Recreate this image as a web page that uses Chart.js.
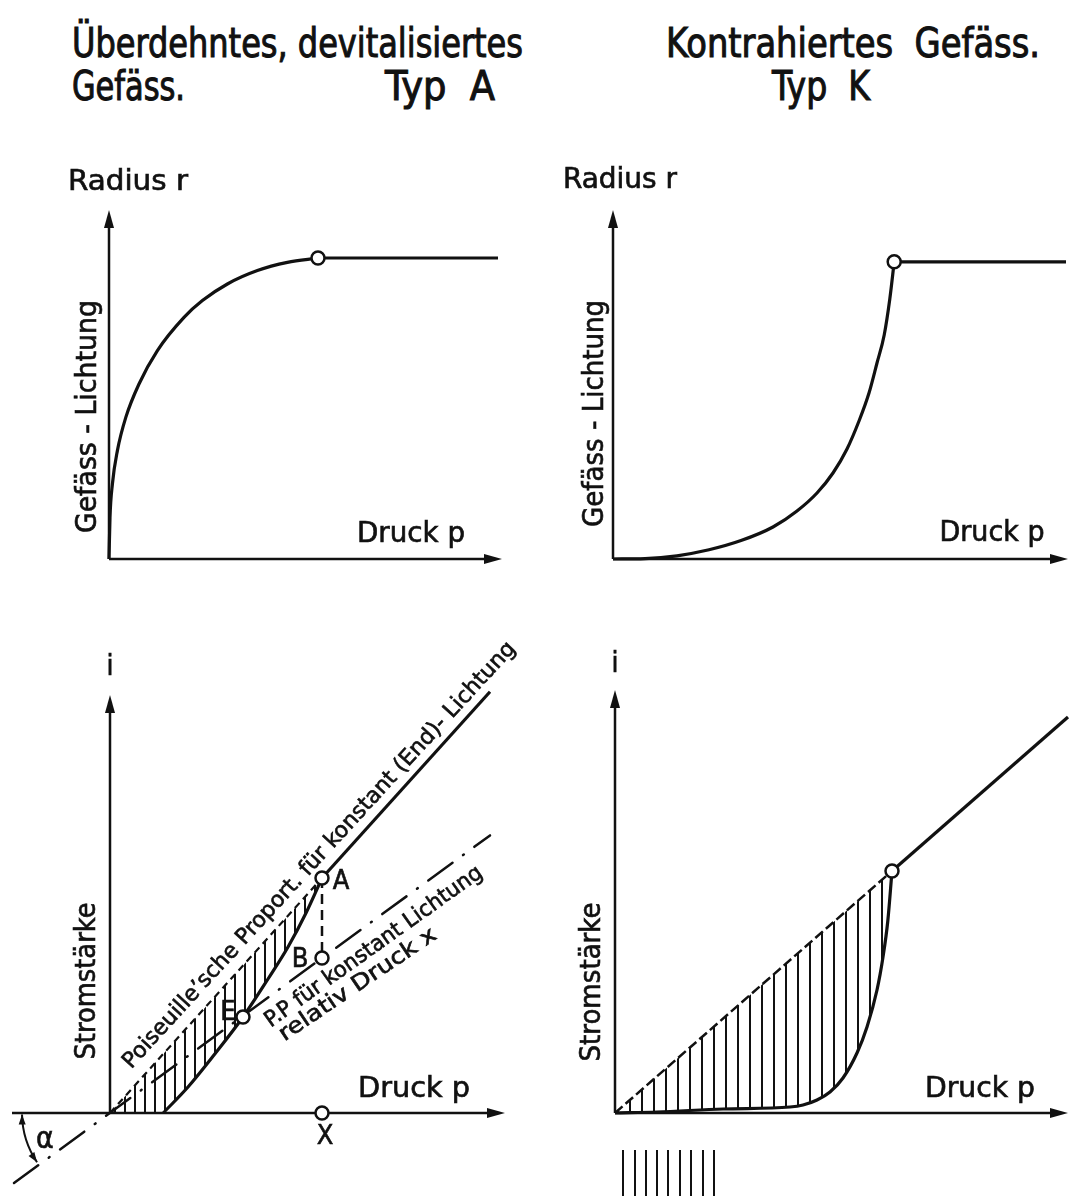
<!DOCTYPE html>
<html lang="de">
<head>
<meta charset="utf-8">
<title>Typ A / Typ K</title>
<script src="https://cdn.jsdelivr.net/npm/chart.js@4.4.1/dist/chart.umd.min.js"></script>
<style>
  html, body { margin: 0; padding: 0; background: #fff; }
  body { position: relative; width: 1071px; height: 1196px; overflow: hidden; }
  canvas { position: absolute; }
  .titel { position: absolute; white-space: pre; font-family: "DejaVu Sans Condensed", "DejaVu Sans", sans-serif;
           font-size: 40px; line-height: 40px; color: #111; -webkit-text-stroke: 1px #111; transform-origin: 0 0; }
</style>
</head>
<body>
<div class="titel" data-w="451" style="left:72px; top:23px">Überdehntes, devitalisiertes</div>
<div class="titel" data-w="113" style="left:72px; top:66px">Gefäss.</div>
<div class="titel" data-w="110" style="left:385px; top:66px">Typ  A</div>
<div class="titel" data-w="374" style="left:666px; top:23px">Kontrahiertes  Gefäss.</div>
<div class="titel" data-w="98" style="left:772px; top:66px">Typ  K</div>

<canvas id="obenA" width="481" height="431" style="left:39px; top:149px"></canvas>
<canvas id="obenK" width="521" height="431" style="left:550px; top:149px"></canvas>
<canvas id="untenA" width="540" height="576" style="left:0px; top:620px"></canvas>
<canvas id="untenK" width="531" height="576" style="left:540px; top:620px"></canvas>

<script>
const INK = '#111';
const FONT = '"DejaVu Sans Condensed", "DejaVu Sans", sans-serif';

// Typ A oben: Gefäss-Lichtung über Druck
const druckA = [0, 0.25, 0.85, 2.1, 4.2, 7.5, 12.1, 18.75, 23.35, 29.6, 37.1, 44.6, 52.25];
const radiusA = [0, 10.4, 18.75, 27.1, 35.4, 43.75, 52.1, 60.4, 64.6, 68.75, 72.1, 74.15, 75.25];
const plateauDruckA = [52.25, 97.25];
const plateauRadiusA = [75.25, 75.25];

// Typ K oben
const druckK = [0, 8, 16, 24, 32, 40, 46, 51, 55, 58.5, 61.5, 64, 66, 67.8, 69.2, 70.3];
const radiusK = [0, 0.1, 0.8, 2.3, 4.6, 8, 12, 16.5, 21.5, 27.5, 34.5, 41.5, 49, 56, 65, 74.3];
const plateauDruckK = [70.3, 113.25];
const plateauRadiusK = [74.3, 74.3];

// Typ A unten: Stromstärke über Druck
const druckStromA = [13.3, 19.5, 26, 33.25, 39.5, 44.5, 49, 53];
const stromA = [0, 6.5, 14.5, 24, 33.5, 41.5, 50, 58.75];
const poisDruckA = [0, 53, 95];
const poisStromA = [0, 58.75, 105.3];
const ppDruckA = [-24, 95];
const ppStromA = [-17.5, 69.4];
const punktDruckA = [53, 53, 33.25, 53];   // A, B, E, X
const punktStromA = [58.75, 38.75, 24, 0];

// Typ K unten
const druckStromK = [0, 10.5, 27, 43.75, 47, 50.5, 53.75, 57, 60.5, 63, 65.5, 67, 68.2, 69.25];
const stromK = [0, 0.25, 1, 1.5, 2, 3.25, 5.25, 8.75, 15, 21.5, 30.75, 39, 48, 60.5];
const poisDruckK = [0, 69.25, 113.25];
const poisStromK = [0, 60.5, 99];
const strichDruck = [2, 5, 7.75, 10.5, 13.25, 16.25, 19, 22, 24.75];
const strichOben = -9.25, strichUnten = -21;

// titles: squeeze to the width of the lettering
document.querySelectorAll('.titel').forEach(el => {
  const w = +el.dataset.w;
  const r = el.getBoundingClientRect().width;
  el.style.transform = 'scaleX(' + (w / r) + ')';
});

const pts = (xs, ys) => xs.map((x, i) => ({x: x, y: ys[i]}));

function linie(xs, ys, extra) {
  return Object.assign({
    data: pts(xs, ys), showLine: true, borderColor: INK, borderWidth: 3.2,
    pointRadius: 0, pointHitRadius: 0, tension: 0, fill: false, clip: false
  }, extra);
}

function punkte(xs, ys) {
  return {
    data: pts(xs, ys), showLine: false, pointRadius: 6.5, pointBorderWidth: 2.5,
    pointBackgroundColor: '#fff', pointBorderColor: INK, clip: false
  };
}

function schraffur(step) {
  const c = document.createElement('canvas');
  c.width = step; c.height = 8;
  const g = c.getContext('2d');
  g.fillStyle = INK;
  g.fillRect(Math.floor(step / 2) - 1, 0, 2, 8);
  return g.createPattern(c, 'repeat');
}

function pfeil(ctx, x, y, ang, len, half) {
  const cx = Math.cos(ang), cy = Math.sin(ang);
  ctx.beginPath();
  ctx.moveTo(x, y);
  ctx.lineTo(x - len * cx - half * cy, y - len * cy + half * cx);
  ctx.lineTo(x - len * cx + half * cy, y - len * cy - half * cx);
  ctx.closePath();
  ctx.fill();
}

// axes with arrows, labels and the angle arc, all placed through the scales
const skizze = {
  id: 'skizze',
  beforeDatasetsDraw(chart, args, opts) {
    const ctx = chart.ctx, xs = chart.scales.x, ys = chart.scales.y;
    ctx.save();
    ctx.strokeStyle = INK; ctx.fillStyle = INK; ctx.lineWidth = 2.5;
    (opts.achsen || []).forEach(a => {
      const x0 = xs.getPixelForValue(a[0]), y0 = ys.getPixelForValue(a[1]);
      const x1 = xs.getPixelForValue(a[2]), y1 = ys.getPixelForValue(a[3]);
      const ang = Math.atan2(y1 - y0, x1 - x0);
      ctx.beginPath();
      ctx.moveTo(x0, y0);
      ctx.lineTo(x1 - 14 * Math.cos(ang), y1 - 14 * Math.sin(ang));
      ctx.stroke();
      pfeil(ctx, x1, y1, ang, 18, 5);
    });
    ctx.restore();
  },
  afterDatasetsDraw(chart, args, opts) {
    const ctx = chart.ctx, xs = chart.scales.x, ys = chart.scales.y;
    ctx.save();
    ctx.fillStyle = INK; ctx.strokeStyle = INK;
    if (opts.bogen) {
      const b = opts.bogen;
      const cx = xs.getPixelForValue(b.x), cy = ys.getPixelForValue(b.y);
      const r = xs.getPixelForValue(b.r) - xs.getPixelForValue(0);
      const a0 = b.von * Math.PI / 180, a1 = b.bis * Math.PI / 180;
      ctx.lineWidth = 2;
      ctx.beginPath();
      ctx.arc(cx, cy, r, a0, a1);
      ctx.stroke();
      pfeil(ctx, cx + r * Math.cos(a1), cy + r * Math.sin(a1), a1 + Math.PI / 2, 10, 3.5);
      pfeil(ctx, cx + r * Math.cos(a0), cy + r * Math.sin(a0), a0 - Math.PI / 2, 10, 3.5);
    }
    (opts.texte || []).forEach(l => {
      ctx.save();
      ctx.translate(xs.getPixelForValue(l.x), ys.getPixelForValue(l.y));
      ctx.rotate((l.rot || 0) * Math.PI / 180);
      ctx.font = l.s + 'px ' + FONT;
      ctx.textAlign = 'center';
      ctx.textBaseline = 'middle';
      if (l.w) ctx.scale(l.w / ctx.measureText(l.t).width, 1);
      ctx.lineWidth = 0.6;
      ctx.fillText(l.t, 0, 0);
      ctx.strokeText(l.t, 0, 0);
      ctx.restore();
    });
    ctx.restore();
  }
};

function zeichne(id, xr, yr, datasets, sk) {
  return new Chart(document.getElementById(id), {
    type: 'scatter',
    data: { datasets: datasets },
    options: {
      responsive: false,
      animation: false,
      events: [],
      layout: { padding: 0, autoPadding: false },
      scales: {
        x: { type: 'linear', min: xr[0], max: xr[1], display: false },
        y: { type: 'linear', min: yr[0], max: yr[1], display: false }
      },
      plugins: { legend: { display: false }, tooltip: { enabled: false }, skizze: sk }
    },
    plugins: [skizze]
  });
}

// oben links: Typ A
zeichne('obenA', [-17.5, 102.75], [-5.25, 102.5], [
  punkte([druckA[druckA.length - 1]], [radiusA[radiusA.length - 1]]),
  linie(druckA, radiusA, { cubicInterpolationMode: 'monotone' }),
  linie(plateauDruckA, plateauRadiusA)
], {
  achsen: [[0, 0, 98.25, 0], [0, 0, 0, 87.25]],
  texte: [
    { t: 'Radius r', x: 4.75, y: 94, s: 28, w: 120 },
    { t: 'Gefäss - Lichtung', x: -5, y: 35.6, s: 28, rot: -90, w: 233 },
    { t: 'Druck p', x: 75.5, y: 6, s: 28, w: 108 }
  ]
});

// oben rechts: Typ K
zeichne('obenK', [-15.75, 114.5], [-5.25, 102.5], [
  punkte([druckK[druckK.length - 1]], [radiusK[radiusK.length - 1]]),
  linie(druckK, radiusK, { cubicInterpolationMode: 'monotone' }),
  linie(plateauDruckK, plateauRadiusK)
], {
  achsen: [[0, 0, 113.75, 0], [0, 0, 0, 87.25]],
  texte: [
    { t: 'Radius r', x: 1.75, y: 94.5, s: 28, w: 114 },
    { t: 'Gefäss - Lichtung', x: -4.25, y: 36.4, s: 28, rot: -90, w: 227 },
    { t: 'Druck p', x: 94.75, y: 6.25, s: 28, w: 105 }
  ]
});

// unten links: Stromstärke Typ A
const flaecheA = pts([0, poisDruckA[1]].concat(druckStromA.slice().reverse()),
                     [0, poisStromA[1]].concat(stromA.slice().reverse()));
zeichne('untenA', [-27.5, 107.5], [-20.75, 123.25], [
  punkte(punktDruckA, punktStromA),
  linie(poisDruckA.slice(1), poisStromA.slice(1)),
  linie(druckStromA, stromA, { cubicInterpolationMode: 'monotone' }),
  linie(poisDruckA.slice(0, 2), poisStromA.slice(0, 2), { borderWidth: 2.2, borderDash: [7, 5] }),
  linie([punktDruckA[0], punktDruckA[1]], [punktStromA[0], punktStromA[1]], { borderWidth: 2.5, borderDash: [10, 6] }),
  linie(ppDruckA, ppStromA, { borderWidth: 2.5, borderDash: [30, 13, 1, 13], borderCapStyle: 'round' }),
  { data: flaecheA, showLine: true, borderWidth: 0, pointRadius: 0, tension: 0,
    fill: 'shape', backgroundColor: schraffur(10), clip: false }
], {
  achsen: [[-24.5, 0, 98.75, 0], [0, 0, 0, 104.5]],
  bogen: { x: 0, y: 0, r: 22, von: 146, bis: 179 },
  texte: [
    { t: 'i', x: 0, y: 111.25, s: 28 },
    { t: 'Stromstärke', x: -5.5, y: 33, s: 28, rot: -90, w: 157 },
    { t: 'Druck p', x: 76, y: 5.75, s: 28, w: 112 },
    { t: 'A', x: 57.75, y: 57.75, s: 27 },
    { t: 'B', x: 47.5, y: 38.25, s: 27 },
    { t: 'E', x: 29.5, y: 25, s: 27 },
    { t: 'X', x: 53.75, y: -6, s: 27 },
    { t: 'α', x: -16.25, y: -6.75, s: 30 },
    { t: 'Poiseuille’sche Proport. für konstant (End)- Lichtung', x: 52.4, y: 64.4, s: 22, rot: -47.5, w: 570 },
    { t: 'P.P für konstant Lichtung', x: 66, y: 41.5, s: 22, rot: -35.5, w: 262 },
    { t: 'relativ Druck x', x: 62, y: 32, s: 22, rot: -34, w: 185 }
  ]
});

// unten rechts: Stromstärke Typ K
const flaecheK = pts([0, poisDruckK[1]].concat(druckStromK.slice().reverse()),
                     [0, poisStromK[1]].concat(stromK.slice().reverse()));
const striche = [];
strichDruck.forEach(x => {
  striche.push({x: x, y: strichOben}, {x: x, y: strichUnten}, {x: x, y: null});
});
zeichne('untenK', [-18.75, 114], [-20.75, 123.25], [
  punkte([poisDruckK[1]], [poisStromK[1]]),
  linie(poisDruckK.slice(1), poisStromK.slice(1)),
  linie(druckStromK, stromK, { cubicInterpolationMode: 'monotone' }),
  linie(poisDruckK.slice(0, 2), poisStromK.slice(0, 2), { borderWidth: 2.5, borderDash: [10, 4] }),
  { data: striche, showLine: true, spanGaps: false, borderColor: INK, borderWidth: 2,
    pointRadius: 0, tension: 0, clip: false },
  { data: flaecheK, showLine: true, borderWidth: 0, pointRadius: 0, tension: 0,
    fill: 'shape', backgroundColor: schraffur(12), clip: false }
], {
  achsen: [[0, 0, 113.25, 0], [0, 0, 0, 105.75]],
  texte: [
    { t: 'i', x: 0, y: 112, s: 28 },
    { t: 'Stromstärke', x: -5.5, y: 32.75, s: 28, rot: -90, w: 159 },
    { t: 'Druck p', x: 91.25, y: 5.75, s: 28, w: 110 }
  ]
});
</script>
</body>
</html>
